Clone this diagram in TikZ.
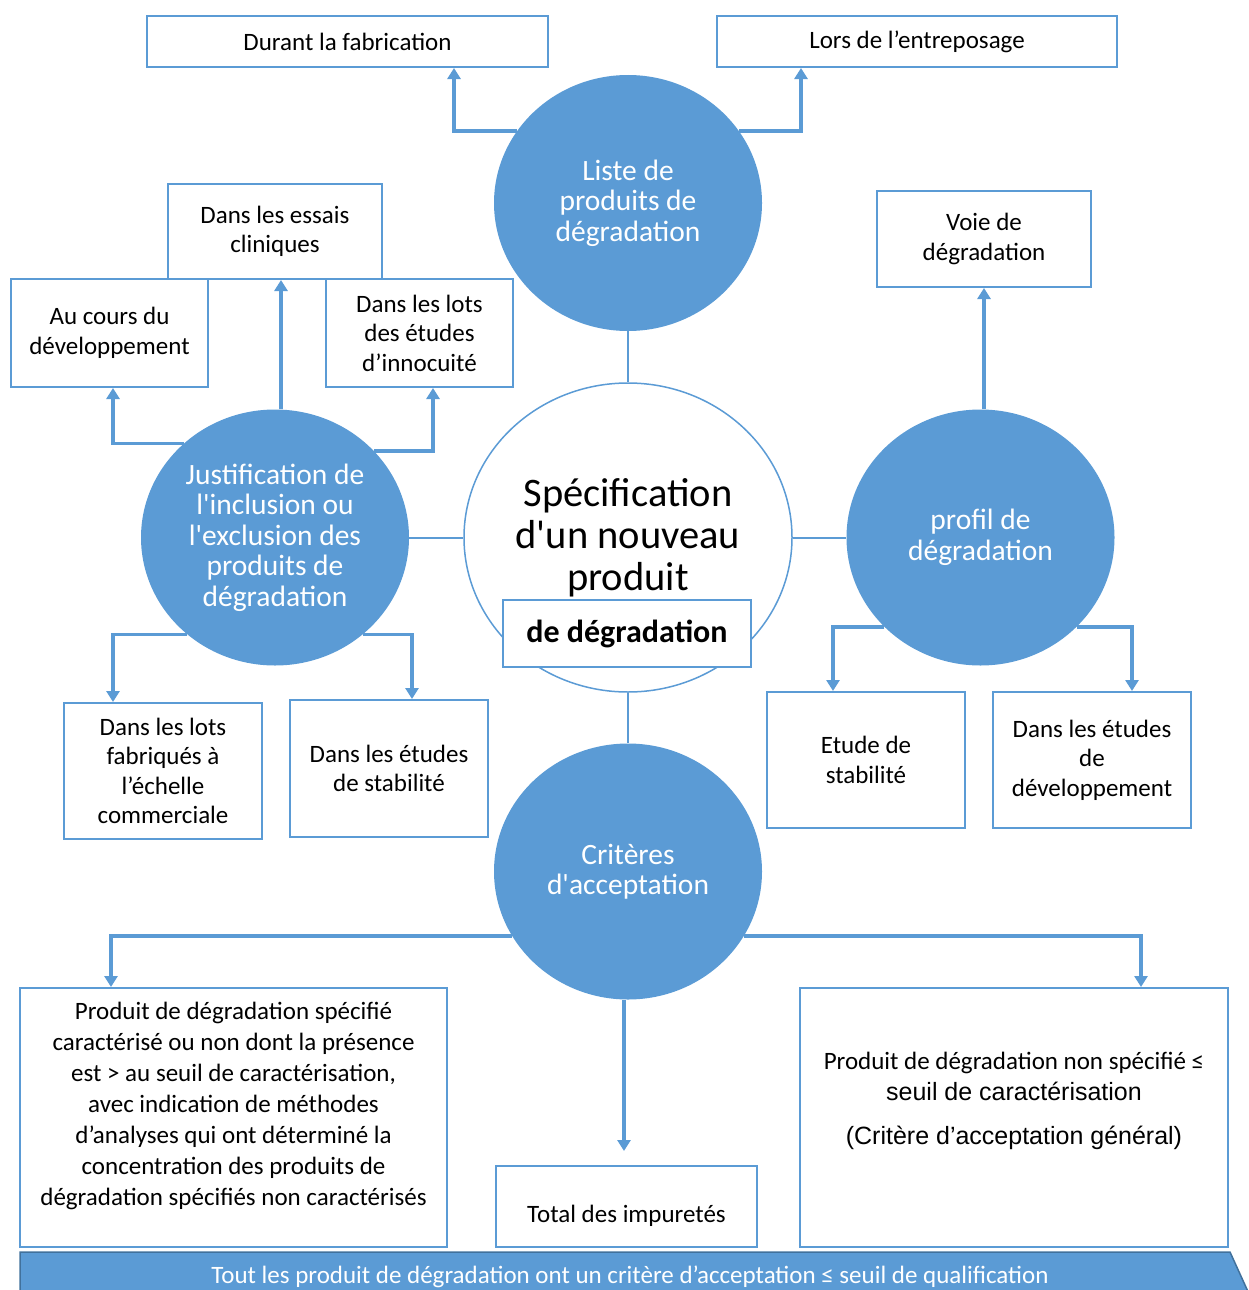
\documentclass[tikz,border=0pt]{standalone}
\usepackage{fontspec}
\setmainfont{Carlito}
\newfontfamily\arialfont{Liberation Sans}
\usetikzlibrary{shapes.geometric,arrows.meta}
\definecolor{bleu}{RGB}{91,155,213}
\definecolor{bleufonce}{RGB}{65,113,156}

\tikzset{
  cadre/.style={draw=bleu, line width=2pt, fill=white, align=center, inner sep=0pt,
    font=\fontsize{25}{29.5}\selectfont},
  texte/.style={align=center, inner sep=0pt, font=\fontsize{25}{31}\selectfont},
  bulle/.style={ellipse, fill=bleu, text=white, align=center, inner sep=0pt,
    minimum width=268pt, minimum height=256pt, font=\fontsize{29.5}{30.5}\selectfont},
  lien/.style={draw=bleu, line width=2pt},
  fleche/.style={draw=bleu, line width=3.5pt, -{Triangle[width=13pt,length=11pt]}},
}

\begin{document}
\begin{tikzpicture}[x=1pt,y=-1pt]
    \useasboundingbox (0,0) rectangle (1248,1290);

    % bulles
    \node[bulle] (liste) at (628,203) {Liste de\\produits de\\dégradation};
    \node[bulle] (just) at (275,537.5) {Justification de\\l\textquotesingle inclusion ou\\l\textquotesingle exclusion des\\produits de\\dégradation};
    \node[bulle] (profil) at (980.5,537.5) {profil de\\dégradation};
    \node[bulle] (crit) at (628,871.5) {Critères\\d\textquotesingle acceptation};
    \node[ellipse, draw=bleu, line width=1.5pt, fill=white, inner sep=0pt,
      minimum width=328pt, minimum height=309pt, align=center,
      font=\fontsize{40.5}{42}\selectfont] (centre) at (628,537.5)
      {Spécification\\d\textquotesingle un nouveau\\produit};
    \node[cadre, minimum width=248pt, minimum height=67pt,
      font=\fontsize{32}{36}\selectfont\bfseries] (degr) at (627,633.5) {de dégradation};

    \draw[lien] (liste) -- (centre);
    \draw[lien] (just) -- (centre);
    \draw[lien] (centre) -- (profil);
    \draw[lien] (centre) -- (crit);

    % en haut
    \node[cadre, minimum width=401pt, minimum height=51pt] (fab) at (347.5,41.5) {Durant la fabrication};
    \node[cadre, minimum width=400pt, minimum height=51pt] (entr) at (917,41.5) {Lors de l’entreposage};
    \draw[fleche] (liste.147) -| ([xshift=106.5pt]fab.south);
    \draw[fleche] (liste.33) -| ([xshift=-116pt]entr.south);

    % a gauche
    \node[cadre, minimum width=214pt, minimum height=95pt] (essais) at (275,231.5) {Dans les essais\\cliniques};
    \node[cadre, minimum width=197pt, minimum height=108pt] (cours) at (109.5,333) {Au cours du\\développement};
    \node[cadre, minimum width=187pt, minimum height=108pt] (inno) at (419.5,333) {Dans les lots\\des études\\d’innocuité};
    \node[cadre, minimum width=198pt, minimum height=136pt] (comm) at (163,771) {Dans les lots\\fabriqués à\\l’échelle\\commerciale};
    \node[cadre, minimum width=198pt, minimum height=137pt] (stab) at (389,768.5) {Dans les études\\de stabilité};
    \draw[fleche] ([xshift=6pt]just.north) -- ([xshift=6pt]essais.south);
    \draw[fleche] (just.134) -| ([xshift=3.5pt]cours.south);
    \draw[fleche] (just.41) -| ([xshift=13.5pt]inno.south);
    \draw[fleche] (just.228) -| ([xshift=-50pt]comm.north);
    \draw[fleche] (just.312) -| ([xshift=23pt]stab.north);

    % a droite
    \node[cadre, minimum width=214pt, minimum height=96pt] (voie) at (984,239) {Voie de\\dégradation};
    \node[cadre, minimum width=198pt, minimum height=136pt] (etude) at (866,760) {Etude de\\stabilité};
    \node[cadre, minimum width=198pt, minimum height=136pt] (dev) at (1092,760) {Dans les études\\de\\développement};
    \draw[fleche] (profil.north -| voie.south) -- (voie.south);
    \draw[fleche] (profil.223) -| ([xshift=-33pt]etude.north);
    \draw[fleche] (profil.317) -| ([xshift=40pt]dev.north);

    % en bas
    \node[cadre, minimum width=427pt, minimum height=259pt] (spec) at (233.5,1117.5) {};
    \node[texte] at (233.5,1106) {Produit de dégradation spécifié\\caractérisé ou non dont la présence\\est > au seuil de caractérisation,\\avec indication de méthodes\\d’analyses qui ont déterminé la\\concentration des produits de\\dégradation spécifiés non caractérisés};
    \node[cadre, minimum width=261pt, minimum height=81pt] (total) at (626.5,1206.5) {};
    \node[texte] at (626.5,1216) {Total des impuretés};
    \node[cadre, minimum width=428pt, minimum height=259pt] (nonspec) at (1014,1117.5) {};
    \node[texte] at (1014,1076) {Produit de dégradation non spécifié ≤\\{\arialfont seuil de caractérisation}};
    \node[texte, font=\fontsize{25}{31}\arialfont] at (1014,1138) {(Critère d’acceptation général)};
    \draw[fleche] (crit.209) -| ([xshift=-122.5pt]spec.north);
    \draw[fleche] (crit.331) -| ([xshift=127pt]nonspec.north);
    \draw[fleche] ([xshift=-4pt]crit.south) -- ([xshift=-2.5pt,yshift=14pt]total.north);

    % bandeau
    \begin{scope}
        \clip (0,0) rectangle (1248,1290);
        \fill[bleu, draw=bleufonce, line width=1.5pt] (20,1252) -- (1230,1252) -- (1250,1296) -- (1230,1340) -- (20,1340) -- cycle;
    \end{scope}
    \node[text=white, font=\fontsize{25}{28}\selectfont] (bandeau) at (630,1277) {Tout les produit de dégradation ont un critère d’acceptation ≤ seuil de qualification};
\end{tikzpicture}
\end{document}
